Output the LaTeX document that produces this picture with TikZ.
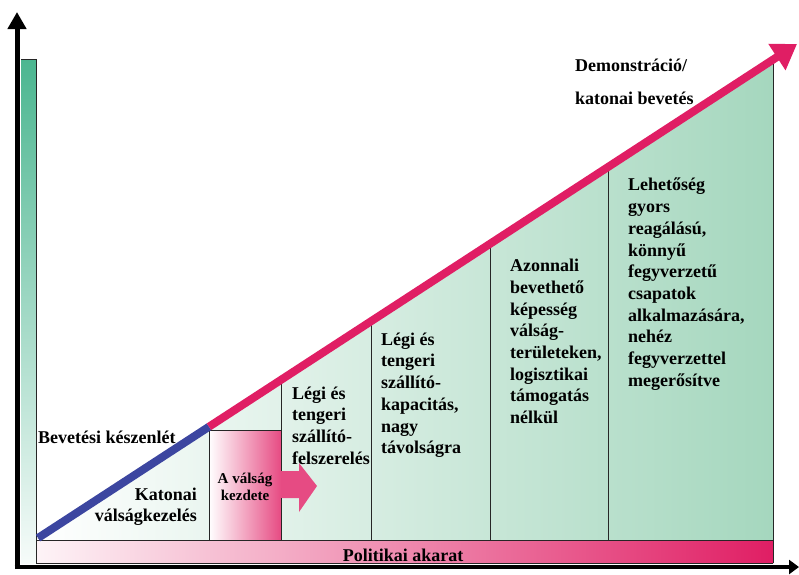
\documentclass[tikz,border=0pt]{standalone}
\usepackage{fontspec}
\setmainfont{Liberation Serif}
\usepackage{tikz}
\usetikzlibrary{positioning,arrows.meta,calc}
\definecolor{cMag}{RGB}{224,30,100}
\definecolor{cBlue}{RGB}{60,70,160}
\definecolor{cGrn}{RGB}{165,215,190}
\definecolor{cTeal}{RGB}{75,182,144}

\begin{document}
\begin{tikzpicture}[x=1pt,y=-1pt]
\tikzset{
 tx/.style={font=\fontsize{18}{21.7}\selectfont\bfseries,align=left,anchor=north west,inner sep=0},
 sm/.style={font=\fontsize{15}{17.5}\selectfont\bfseries,align=center,inner sep=0},
 dv/.style={draw=black!85,line width=0.9pt},
 ax/.style={draw=black,line width=5pt}
}
\useasboundingbox (0,0) rectangle (799,574);
\coordinate (o) at (38,538);
\coordinate (brk) at (209,426.7);
\coordinate (tip) at (797,44);
\coordinate (bl) at (36,540);
\coordinate (br) at (773,540);
\coordinate (tr) at (773,59.6);

\fill[left color=white,right color=cGrn] (bl)--(br)--(tr)--cycle;
\fill[left color=cMag!5,right color=cMag] (36,540) rectangle (773,563);
\fill[top color=cTeal,middle color=cTeal!55,bottom color=cTeal!5] (21,59) rectangle (36,563);
\draw[dv] (21,59)--(36,59)--(36,563);
\fill[left color=white,right color=cMag!80] (209,430) rectangle (281,540);
\fill[cMag!80] (281,471)--(299,471)--(299,463)--(317,486)--(299,512)--(299,498)--(281,498)--cycle;

\draw[dv] (bl)--(br); \draw[dv] (tr)--(773,563);
\draw[dv] (36,563)--(773,563);
\draw[dv] (209,430)--(281,430); \draw[dv] (209,430)--(209,540);
\draw[dv] (281,379.8)--(281,471); \draw[dv] (281,498)--(281,540);
\draw[dv] (371,321.3)--(371,540);
\draw[dv] (490,243.8)--(490,540);
\draw[dv] (608,167)--(608,540);

\draw[cBlue,line width=8pt] (o)--(brk);
\draw[cMag,line width=8pt,-{Triangle[length=24pt,width=30pt]}] (brk)--(tip);

\draw[ax,-{Triangle[length=17pt,width=18pt]}] (17,569)--(17,12);
\draw[draw=black,line width=4pt,-{Triangle[length=10pt,width=14pt]}] (14.5,567)--(799,567);

\node[tx,anchor=base west] (demo) at (575,71) {Demonstráció/};
\node[tx,anchor=base west] (bev) at (575,104) {katonai bevetés};
\node[tx,anchor=base west] (kesz) at (38,443) {Bevetési készenlét};
\node[tx,anchor=north east,align=right] (kat) at (197,487.5) {Katonai\\válságkezelés};
\node[sm,anchor=north] (kezd) at (245,472.5) {A válság\\kezdete};
\node[tx] (c1) at (292,386.5) {Légi és\\tengeri\\szállító-\\felszerelés};
\node[tx] (c2) at (381,332.5) {Légi és\\tengeri\\szállító-\\kapacitás,\\nagy\\távolságra};
\node[tx] (c3) at (510,259) {Azonnali\\bevethető\\képesség\\válság-\\területeken,\\logisztikai\\támogatás\\nélkül};
\node[tx] (c4) at (628,178) {Lehetőség\\gyors\\reagálású,\\könnyű\\fegyverzetű\\csapatok\\alkalmazására,\\nehéz\\fegyverzettel\\megerősítve};
\node[tx,anchor=base] (pol) at (403,561) {Politikai akarat};
\end{tikzpicture}
\end{document}
